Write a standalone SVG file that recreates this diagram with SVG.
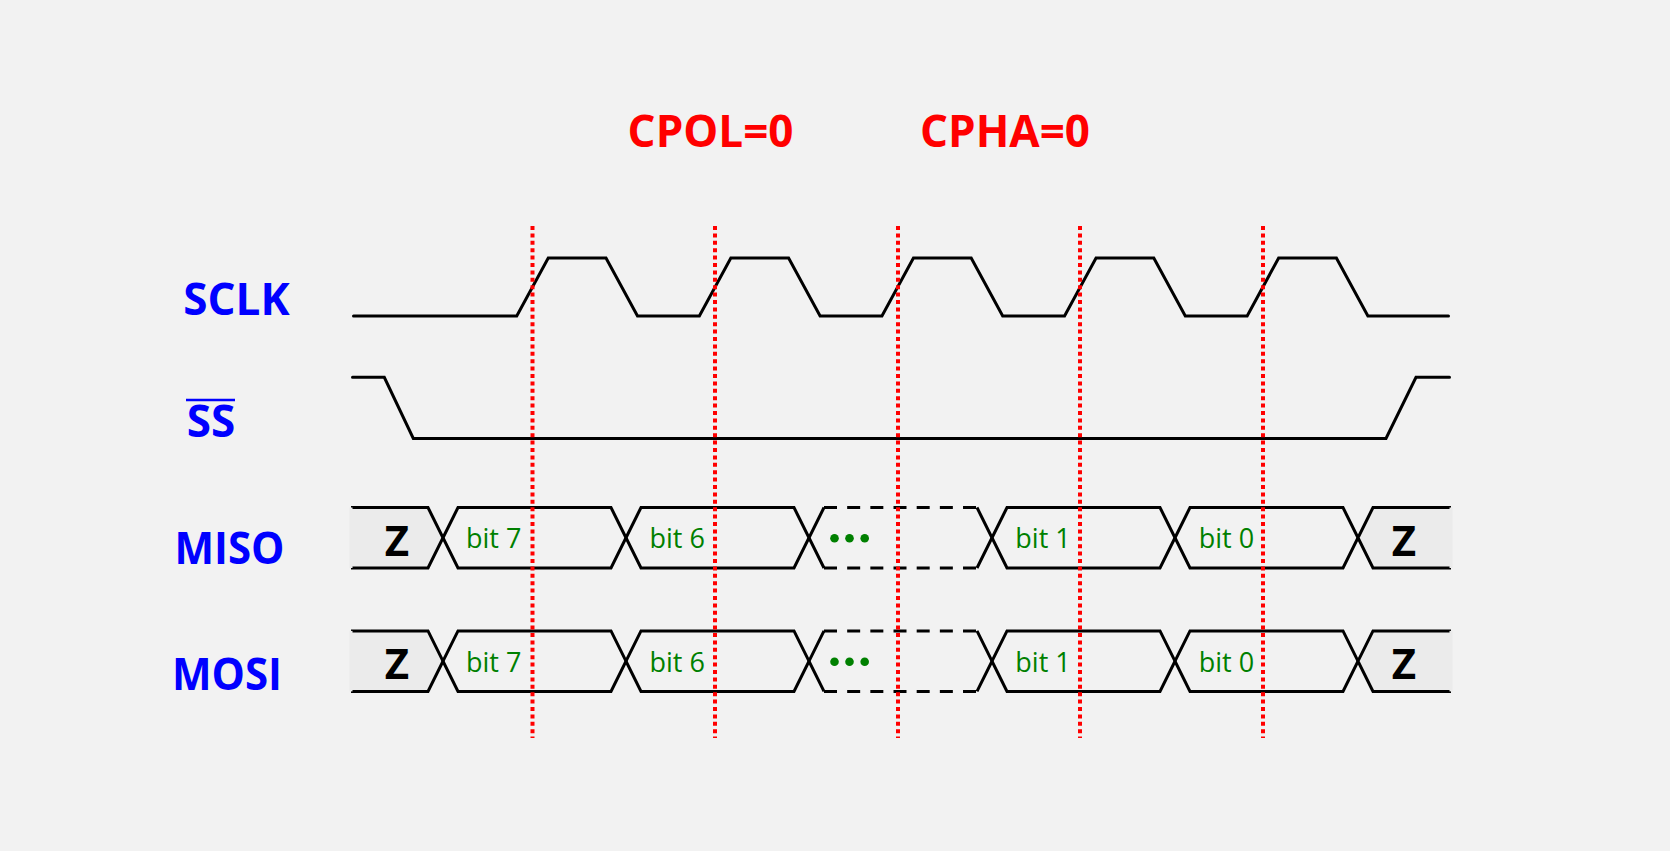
<svg xmlns="http://www.w3.org/2000/svg" width="1670" height="851" viewBox="0 0 1670 851">
<style>
.sig{fill:none;stroke:#000;stroke-width:3;stroke-linejoin:miter;stroke-linecap:round}
.bus{fill:none;stroke:#000;stroke-width:3;stroke-linecap:butt}
.zfill{fill:#ebebeb;stroke:#000;stroke-width:3}
.dash{fill:none;stroke:#000;stroke-width:3;stroke-dasharray:13 10.17}
.red{stroke:#ff0000;stroke-width:4;stroke-dasharray:4 3.4}
.lbl{font-family:"Open Sans","Noto Sans","DejaVu Sans",sans-serif;font-weight:bold;font-size:44px;fill:#0000ff}
.title{font-family:"Open Sans","Noto Sans","DejaVu Sans",sans-serif;font-weight:bold;font-size:44px;fill:#ff0000}
.bit{font-family:"Open Sans","Noto Sans","DejaVu Sans",sans-serif;font-size:27px;fill:#008000}
.z{font-family:"Open Sans","Noto Sans","DejaVu Sans",sans-serif;font-weight:bold;font-size:42px;fill:#000;text-anchor:middle}
</style>
<rect x="0" y="0" width="1670" height="851" fill="#f2f2f2"/>

<g id="title">
<text class="title" x="627.6" y="147.3">CPOL=0</text>
<text class="title" x="920" y="147.3">CPHA=0</text>
</g>

<g id="labels">
<text id="lbl-sclk" class="lbl" x="183.3" y="315">SCLK</text>
<g id="lbl-ss"><text class="lbl" x="186.7" y="436.7">SS</text><line x1="186" y1="400" x2="235" y2="400" stroke="#0000ff" stroke-width="2.5"/></g>
<text id="lbl-miso" class="lbl" x="174.5" y="564" textLength="110" lengthAdjust="spacingAndGlyphs">MISO</text>
<text id="lbl-mosi" class="lbl" x="172" y="690" textLength="110" lengthAdjust="spacingAndGlyphs">MOSI</text>
</g>

<g id="sclk">
<path class="sig" d="M353.5,316 L516.75,316 L548.25,258 L606,258 L637.5,316 L699.35,316 L730.85,258 L788.6,258 L820.1,316 L881.95,316 L913.45,258 L971.2,258 L1002.7,316 L1064.55,316 L1096.05,258 L1153.8,258 L1185.3,316 L1247.15,316 L1278.65,258 L1336.4,258 L1367.9,316 L1448.5,316"/>
</g>

<g id="ss">
<path class="sig" d="M352.5,377.3 L384.3,377.3 L413.3,438.5 L1386,438.5 L1416,377.3 L1449.5,377.3"/>
</g>

<g id="miso">
<path class="zfill" d="M351,507.5 L428,507.5 L443,537.75 L428,568 L351,568" />
<line x1="351" y1="507.5" x2="351" y2="568" stroke="#ebebeb" stroke-width="3"/>
<path class="bus" d="M443,537.75 L458,507.5 L611,507.5 L626,537.75 L611,568 L458,568 Z"/>
<path class="bus" d="M626,537.75 L641,507.5 L794,507.5 L809,537.75 L794,568 L641,568 Z"/>
<path class="bus" d="M824,507.5 L809,537.75 L824,568 M977,507.5 L992,537.75 L977,568"/>
<path class="dash" d="M824,507.5 L977,507.5 M824,568 L977,568"/>
<path class="bus" d="M992,537.75 L1007,507.5 L1160,507.5 L1175,537.75 L1160,568 L1007,568 Z"/>
<path class="bus" d="M1175,537.75 L1190,507.5 L1343,507.5 L1358,537.75 L1343,568 L1190,568 Z"/>
<path class="zfill" d="M1451,507.5 L1373,507.5 L1358,537.75 L1373,568 L1451,568" />
<line x1="1451" y1="507.5" x2="1451" y2="568" stroke="#ebebeb" stroke-width="3"/>
<text class="z" x="397" y="555.7">Z</text>
<text class="z" x="1404" y="555.7">Z</text>
<text class="bit" x="466" y="548.3">bit 7</text>
<text class="bit" x="649.5" y="548.3">bit 6</text>
<text class="bit" x="1015.3" y="548.3">bit 1</text>
<text class="bit" x="1198.7" y="548.3">bit 0</text>
<circle cx="834.5" cy="538.3" r="4.3" fill="#008000"/>
<circle cx="849.5" cy="538.3" r="4.3" fill="#008000"/>
<circle cx="864.7" cy="538.3" r="4.3" fill="#008000"/>
</g>

<g id="mosi" transform="translate(0,123.4)">
<path class="zfill" d="M351,507.5 L428,507.5 L443,537.75 L428,568 L351,568" />
<line x1="351" y1="507.5" x2="351" y2="568" stroke="#ebebeb" stroke-width="3"/>
<path class="bus" d="M443,537.75 L458,507.5 L611,507.5 L626,537.75 L611,568 L458,568 Z"/>
<path class="bus" d="M626,537.75 L641,507.5 L794,507.5 L809,537.75 L794,568 L641,568 Z"/>
<path class="bus" d="M824,507.5 L809,537.75 L824,568 M977,507.5 L992,537.75 L977,568"/>
<path class="dash" d="M824,507.5 L977,507.5 M824,568 L977,568"/>
<path class="bus" d="M992,537.75 L1007,507.5 L1160,507.5 L1175,537.75 L1160,568 L1007,568 Z"/>
<path class="bus" d="M1175,537.75 L1190,507.5 L1343,507.5 L1358,537.75 L1343,568 L1190,568 Z"/>
<path class="zfill" d="M1451,507.5 L1373,507.5 L1358,537.75 L1373,568 L1451,568" />
<line x1="1451" y1="507.5" x2="1451" y2="568" stroke="#ebebeb" stroke-width="3"/>
<text class="z" x="397" y="555.7">Z</text>
<text class="z" x="1404" y="555.7">Z</text>
<text class="bit" x="466" y="548.3">bit 7</text>
<text class="bit" x="649.5" y="548.3">bit 6</text>
<text class="bit" x="1015.3" y="548.3">bit 1</text>
<text class="bit" x="1198.7" y="548.3">bit 0</text>
<circle cx="834.5" cy="538.3" r="4.3" fill="#008000"/>
<circle cx="849.5" cy="538.3" r="4.3" fill="#008000"/>
<circle cx="864.7" cy="538.3" r="4.3" fill="#008000"/>
</g>

<g id="connectors">
<line class="red" x1="532.5" y1="226" x2="532.5" y2="738"/>
<line class="red" x1="715" y1="226" x2="715" y2="738"/>
<line class="red" x1="898" y1="226" x2="898" y2="738"/>
<line class="red" x1="1080" y1="226" x2="1080" y2="738"/>
<line class="red" x1="1263" y1="226" x2="1263" y2="738"/>
</g>
</svg>
